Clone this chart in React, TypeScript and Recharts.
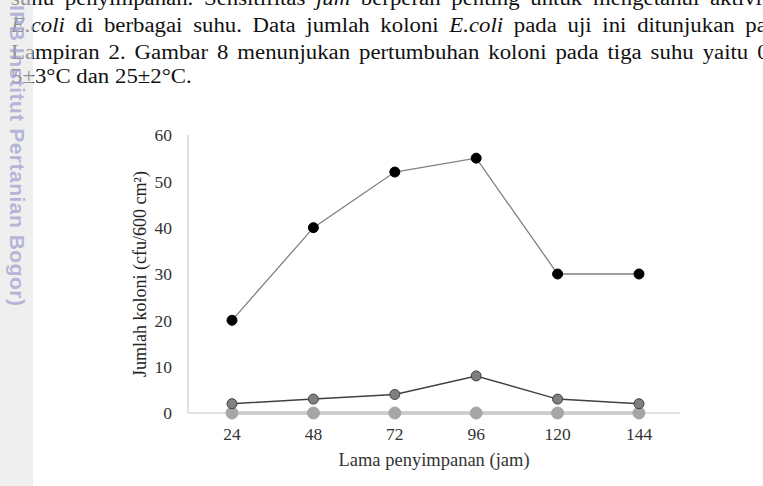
import { Line, LineChart, XAxis, YAxis } from 'recharts'

const hours = ['24', '48', '72', '96', '120', '144']
const suhu25 = [20, 40, 52, 55, 30, 30]
const suhu5 = [2, 3, 4, 8, 3, 2]
const suhu0 = [0, 0, 0, 0, 0, 0]
const yTicks = [0, 10, 20, 30, 40, 50, 60]

const data = hours.map((jam, i) => ({ jam, s25: suhu25[i], s5: suhu5[i], s0: suhu0[i] }))

const serif = '"Liberation Serif", "Times New Roman", serif'

type Word = { t: string; i?: boolean }
const w = (s: string, italic: string[] = []): Word[] =>
  s.split(' ').map((t) => ({ t, i: italic.includes(t) }))

// scanned page text above the figure (stretched a bit wider than plain Times)
const lines: { words: Word[]; top: number; width: number; justify: boolean }[] = [
  { words: w('suhu penyimpanan. Sensitifitas jum berperan penting untuk mengetahui aktivitas', ['jum']), top: -11, width: 681, justify: true },
  { words: w('E.coli di berbagai suhu. Data jumlah koloni E.coli pada uji ini ditunjukan pada', ['E.coli']), top: 16, width: 682, justify: true },
  { words: w('Lampiran 2. Gambar 8 menunjukan pertumbuhan koloni pada tiga suhu yaitu 0±2°C,'), top: 43, width: 712, justify: true },
  { words: w('5±3°C dan 25±2°C.'), top: 67, width: 300, justify: false },
]

export default function App() {
  return (
    <div style={{ position: 'absolute', left: 0, top: 0, width: 763, height: 486, overflow: 'hidden', background: '#fff' }}>
      {lines.map((ln, k) => (
        <div
          key={k}
          style={{
            position: 'absolute', left: 11, top: ln.top, width: ln.width, height: 20,
            display: 'flex', justifyContent: ln.justify ? 'space-between' : 'flex-start', gap: ln.justify ? 0 : 5,
            fontFamily: serif, fontSize: 20, lineHeight: '19px', color: '#111', whiteSpace: 'nowrap',
            transformOrigin: '0 0', transform: 'scaleX(1.14)',
          }}
        >
          {ln.words.map((wd, j) => (
            <span key={j} style={{ fontStyle: wd.i ? 'italic' : 'normal' }}>{wd.t}</span>
          ))}
        </div>
      ))}

      <div style={{ position: 'absolute', left: 0, top: 0, width: 33, height: 486, background: 'rgba(228,228,228,0.6)' }} />
      <div
        style={{
          position: 'absolute', left: 6, top: 5, transformOrigin: '0 0', transform: 'translateX(22px) rotate(90deg)',
          fontFamily: '"Liberation Sans", Arial, sans-serif', fontWeight: 700, fontSize: 21, letterSpacing: 0.5, lineHeight: '22px',
          color: 'rgba(155,155,205,0.7)', whiteSpace: 'nowrap',
        }}
      >
        IPB Institut Pertanian Bogor)
      </div>

      <div style={{ position: 'absolute', left: 120, top: 120 }}>
        <LineChart width={600} height={366} data={data} margin={{ top: 15, right: 40, bottom: 20, left: 0 }}>
          <XAxis
            dataKey="jam"
            height={53}
            padding={{ left: 44, right: 41 }}
            axisLine={{ stroke: '#d9d9d9', strokeWidth: 1.5 }}
            tickLine={false}
            tickMargin={9}
            tick={{ fill: '#333', fontSize: 17.5, fontFamily: serif }}
            label={{ value: 'Lama penyimpanan  (jam)', position: 'insideBottom', offset: 0, style: { fill: '#333', fontSize: 18.5, fontFamily: serif, whiteSpace: 'pre' } }}
          />
          <YAxis
            width={68}
            domain={[0, 60]}
            ticks={yTicks}
            axisLine={{ stroke: '#d9d9d9', strokeWidth: 1.5 }}
            tickLine={false}
            tickMargin={10}
            tick={{ fill: '#333', fontSize: 17.5, fontFamily: serif }}
            label={{ value: 'Jumlah koloni (cfu/600 cm²)', angle: -90, position: 'insideLeft', offset: 20, style: { textAnchor: 'middle', fill: '#222', fontSize: 18, fontFamily: serif } }}
          />
          <Line dataKey="s0" stroke="#a6a6a6" strokeWidth={3} dot={{ r: 6, fill: '#a6a6a6', stroke: '#a6a6a6', strokeWidth: 1 }} isAnimationActive={false} />
          <Line dataKey="s5" stroke="#404040" strokeWidth={1.5} dot={{ r: 5, fill: '#808080', stroke: '#404040', strokeWidth: 1 }} isAnimationActive={false} />
          <Line dataKey="s25" stroke="#808080" strokeWidth={1.3} dot={{ r: 5, fill: '#000', stroke: '#000', strokeWidth: 1 }} isAnimationActive={false} />
        </LineChart>
      </div>
    </div>
  )
}
